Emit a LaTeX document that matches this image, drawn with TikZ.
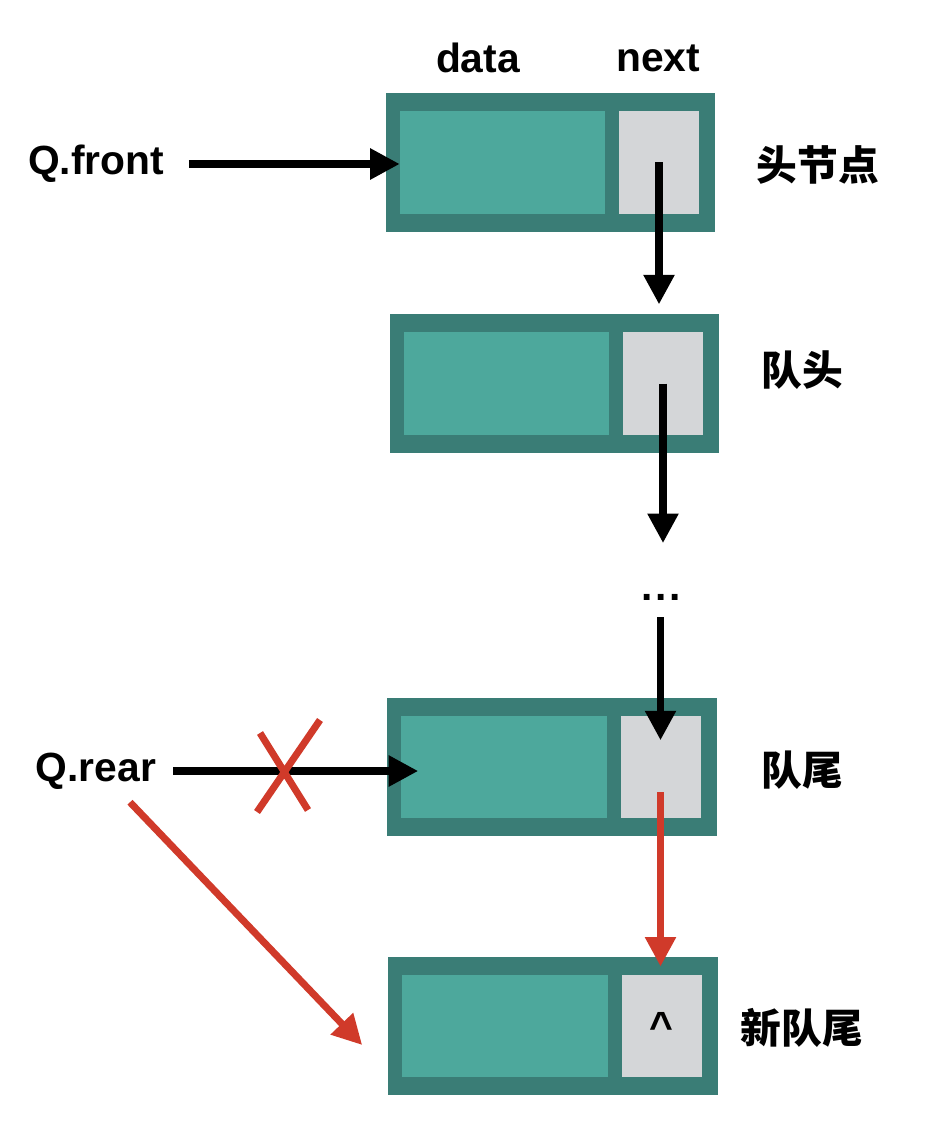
\documentclass[tikz,border=0pt]{standalone}
\usepackage{fontspec}
\setmainfont{Liberation Sans}
\newfontfamily\cjk{Noto Sans CJK SC}
\usetikzlibrary{arrows.meta, positioning, calc}
\definecolor{boxteal}{HTML}{3A7D76}
\definecolor{datateal}{HTML}{4DA89C}
\definecolor{nextgray}{HTML}{D4D6D8}
\definecolor{arrowred}{HTML}{D03A2A}
\tikzset{
  outerbox/.style={fill=boxteal, minimum width=8.225cm, minimum height=3.45cm, inner sep=0pt},
  datafield/.style={fill=datateal, minimum width=5.125cm, minimum height=2.55cm, inner sep=0pt},
  nextfield/.style={fill=nextgray, minimum width=2cm, minimum height=2.55cm, inner sep=0pt},
  lbl/.style={font=\fontsize{29}{34}\selectfont\bfseries},
  cjklbl/.style={font=\fontsize{29}{34}\selectfont\cjk\bfseries},
  ptr/.style={line width=5pt, -{Triangle[length=21pt,width=21pt]}},
  redptr/.style={ptr, draw=arrowred, fill=arrowred}
}

\begin{document}
\begin{tikzpicture}[x=0.025cm, y=-0.025cm]
    \useasboundingbox (0,0) rectangle (928,1142);
    % Knoten der Kette
    \foreach \n/\cx/\cy in {1/550.5/162.5, 2/554.5/383.5, 3/552/767, 4/553/1026} {
      \node[outerbox] (box\n) at (\cx,\cy) {};
      \node[datafield] (data\n) at ($(box\n.center)+(-48,0)$) {};
      \node[nextfield] (next\n) at ($(box\n.center)+(108.5,0)$) {};
    }
    \node[lbl] (datahead) at (478,58) {data};
    \node[lbl] (nexthead) at (658,58) {next};
    \node[lbl] (front) at (96,164) {Q.front};
    \node[lbl] (rear) at (96,771) {Q.rear};
    \node[lbl, inner sep=0pt] (dots) at (661,597) {.\hspace{2pt}.\hspace{2pt}.};
    \node[lbl] (nullptr) at (next4.center) {\textasciicircum};
    \node[cjklbl] (lab1) at (818,165) {头节点};
    \node[cjklbl] (lab2) at (802,370) {队头};
    \node[cjklbl] (lab3) at (802,770) {队尾};
    \node[cjklbl] (lab4) at (802,1028) {新队尾};

    % Zeiger
    \draw[ptr] ($(front.east)+(20,0)$) -- (front.east -| data1.west);
    \draw[ptr] (next1.center) -- ([yshift=7pt]next1.center |- box2.north);
    \draw[ptr] (next2.center) -- ([yshift=36pt]next2.center |- dots.north);
    \draw[ptr] ([yshift=-12pt]dots.south -| next3.center) -- ([yshift=19pt]next3.center);
    \draw[ptr] ($(rear.east)+(12,0)$) -- ($(rear.east -| data3.west)+(17,0)$);
    \draw[arrowred, line width=5pt] (260,733) -- (308,810) (320,720) -- (257,812);
    \draw[redptr] ([yshift=-18pt]next3.center) -- ([yshift=-7pt]next3.center |- box4.north);
    \draw[redptr] ($(rear.south)+(34,8)$) -- ($(box4.west)+(-26,19)$);
\end{tikzpicture}
\end{document}
